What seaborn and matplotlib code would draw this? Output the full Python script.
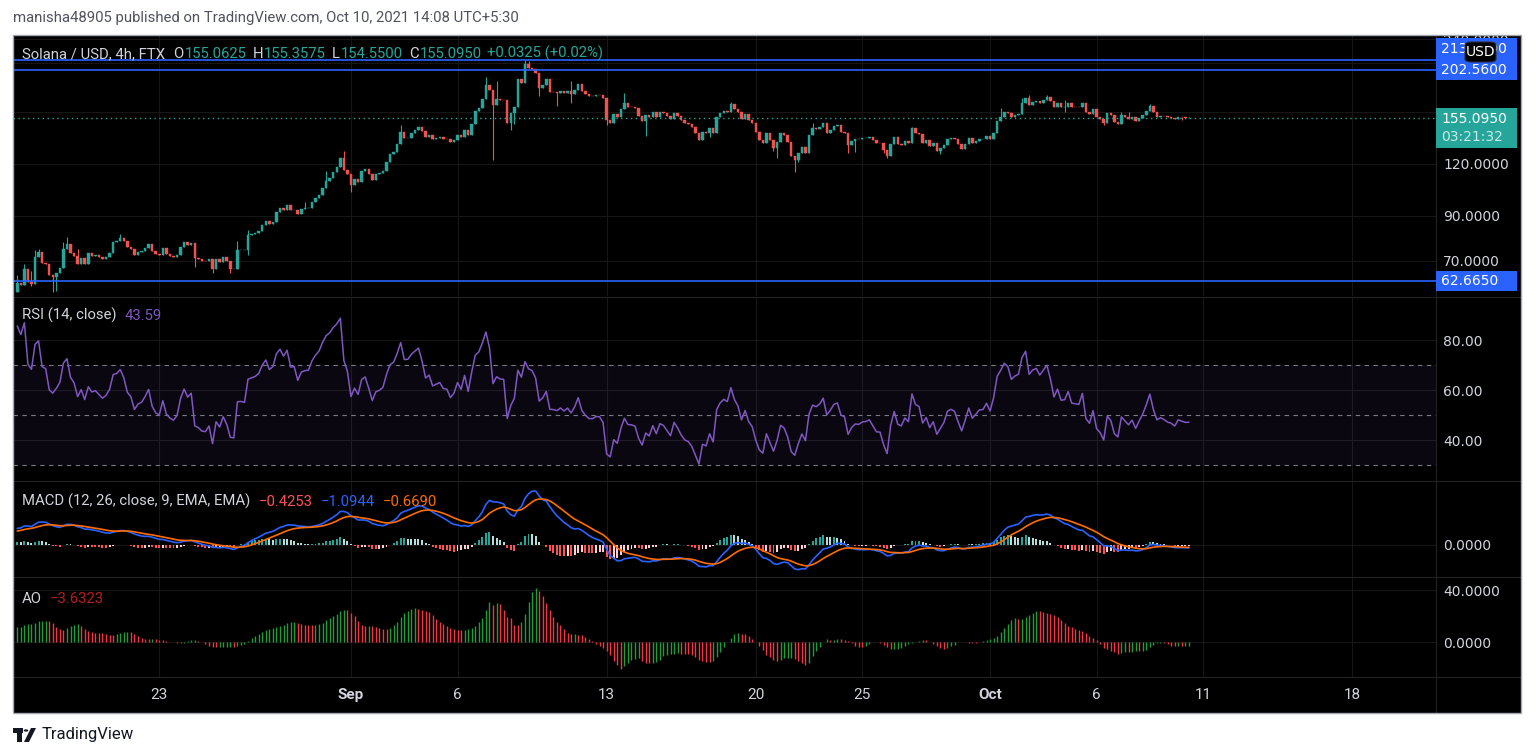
import numpy as np
import pandas as pd
import matplotlib
matplotlib.use("Agg")
import matplotlib.pyplot as plt
import matplotlib.dates as mdates
from matplotlib.patches import Rectangle, FancyBboxPatch, Polygon, Circle
from matplotlib.ticker import FixedLocator, FixedFormatter, NullLocator
from matplotlib import font_manager
import seaborn as sns

# ---------------- data (read off the snapshot) ----------------
# 4h closes before the visible window, only used to warm up the indicators
warmup_close = [37.2, 36.8, 37.5, 38.1, 37.7, 38.3,
                39.0, 39.8, 40.5, 39.9, 40.6, 40.2,
                39.6, 38.9, 39.4, 40.3, 41.2, 42.0,
                43.5, 45.1, 46.8, 45.9, 47.6, 48.9,
                49.5, 51.0, 50.2, 52.4, 53.1, 52.3,
                53.6, 55.2, 54.5, 56.3, 57.4, 58.9]

# visible 4h closes, Aug 16 08:00 -> Aug 31 20:00
close_aug = [61.95, 61.27, 66.96, 62.30, 61.61, 71.58, 73.59, 69.23, 68.9, 64.77,
             64.06, 65.49, 67.33, 74.83, 76.94, 73.18, 71.98, 68.85, 71.18, 68.85,
             73.18, 71.98, 72.38, 71.58, 70.79, 71.58, 73.18, 77.80, 78.24, 79.55,
             78.24, 75.67, 74.83, 72.38, 73.59, 74.0, 75.25, 76.94, 74.0, 72.78,
             72.38, 75.25, 72.78, 71.98, 71.58, 72.38, 75.67, 77.80, 76.51, 77.37,
             71.18, 70.79, 70.0, 69.9, 70.79, 66.96, 70.79, 69.62, 71.58, 70.0,
             66.96, 66.8, 74.41, 74.5, 74.3, 80.89, 81.34, 81.79, 82.70, 85.51,
             87.43, 85.98, 86.95, 91.92, 93.98, 92.94, 95.56, 92.94, 93.1, 90.90,
             93.46, 93.98, 94.1, 97.16, 99.34, 101.0, 105.03, 108.99, 110.83, 114.78,
             118.0, 124.07, 116.06, 113.51]

# Sep 1 00:00 -> Sep 30 20:00
close_sep = [106.79, 110.41, 108.58, 115.42, 116.71, 113.51,
             109.79, 113.51, 114.14, 115.42, 121.34, 126.86, 128.28, 134.10, 143.35, 138.65,
             138.8, 142.55, 144.95, 147.39, 144.15, 139.42, 140.99, 137.88, 138.65, 139.42,
             137.88, 137.7, 135.6, 137.11, 140.99, 139.42, 144.95, 140.99, 149.86, 161.08,
             163.78, 172.19, 186.1, 181.0, 166.5, 172.19, 171.2, 171.0, 150.7, 159.3,
             164.7, 192.43, 188.2, 209.15, 204.6, 203.42, 198.9, 183.0, 186.1, 192.43,
             179.0, 178.8, 178.0, 180.0, 178.0, 180.0, 177.04, 181.0, 187.15, 180.0,
             177.04, 175.1, 175.0, 176.1, 176.0, 173.2, 153.2, 150.7, 158.42, 155.8,
             162.89, 168.4, 164.7, 164.5, 163.8, 156.7, 152.4, 157.5, 155.8, 160.2,
             155.8, 160.2, 159.3, 156.7, 154.08, 159.3, 156.7, 153.2, 150.7, 149.86,
             147.39, 142.55, 137.11, 143.35, 142.55, 146.6, 142.55, 155.8, 159.3, 161.08,
             160.2, 167.47, 162.89, 160.2, 154.08, 158.42, 153.2, 150.7, 143.35, 137.11,
             134.84, 142.55, 137.11, 131.2, 135.6, 142.55, 140.99, 135.6, 125.5, 122.7,
             127.6, 131.9, 127.6, 140.99, 146.6, 145.76, 147.39, 150.7, 142.55, 144.95,
             148.2, 149.0, 143.35, 142.55, 133.4, 136.3, 137.88, 137.7, 138.65, 138.8,
             139.42, 137.11, 134.84, 134.7, 129.7, 125.5, 134.1, 139.42, 134.1, 133.4,
             136.3, 134.84, 146.6, 142.55, 141.76, 134.84, 137.11, 132.6, 134.84, 129.0,
             131.2, 133.4, 137.88, 138.65, 137.9, 134.1, 130.43, 134.1, 138.65, 134.84,
             136.3, 137.88, 138.0, 140.2]

# Oct 1 00:00 -> Oct 10 08:00
close_oct = [137.88, 142.55, 152.4, 155.8, 160.2, 159.3,
             155.8, 157.5, 158.42, 168.4, 173.2, 166.5, 169.3, 170.3, 168.4, 171.2,
             174.1, 170.3, 164.7, 168.4, 164.7, 164.9, 168.4, 164.7, 164.5, 164.3,
             168.4, 160.2, 158.42, 162.89, 155.8, 154.08, 150.7, 159.3, 157.5, 151.5,
             149.86, 157.5, 155.8, 154.08, 155.8, 152.4, 155.0, 157.5, 161.08, 165.6,
             160.2, 156.2, 157.0, 156.3, 155.4, 155.0, 154.1, 155.8, 155.4, 155.0625,
             155.095]

# notable wicks (candle index in the visible window -> price)
wick_high = {0: 64.8, 2: 68.9, 4: 66.2, 5: 74.4, 6: 74.8, 13: 77.8, 14: 80.0, 17: 74.8,
             29: 81.3, 62: 78.2, 65: 83.2, 81: 97.2, 87: 115.4, 92: 129.0, 108: 149.0,
             132: 194.5, 135: 190.3, 143: 213.9, 144: 212.5, 156: 190.3, 171: 178.0,
             201: 169.3, 224: 150.7, 252: 147.4, 277: 163.8, 283: 173.2, 285: 176.1,
             290: 176.1, 295: 171.2, 311: 160.2, 313: 160.2, 319: 167.5, 330: 155.3575}
wick_low = {4: 60.9, 10: 58.9, 11: 59.3, 50: 67.7, 55: 65.5, 60: 65.5, 65: 72.4,
            94: 102.7, 134: 122.7, 139: 144.9, 140: 149.9, 147: 175.1, 152: 165.6,
            156: 168.4, 166: 149.0, 177: 140.2, 195: 139.4, 213: 129.0, 214: 124.1,
            219: 114.8, 220: 121.3, 234: 127.6, 236: 128.3, 244: 127.6, 245: 124.1,
            260: 126.9, 295: 160.2, 306: 149.0, 328: 152.8, 330: 154.55}

level_lines = [213.9, 202.56, 62.665]
level_texts = ["213.9000", "202.5600", "62.6650"]
last_price = 155.095
countdown = "03:21:32"

price_ticks = [70, 90, 120, 160, 210, 240]
price_tick_text = ["70.0000", "90.0000", "120.0000", "160.0000", "", "240.0000"]
rsi_ticks = [40, 60, 80]
ao_ticks = [0, 40]
date_ticks = ["2021-08-23", "2021-09-01", "2021-09-06", "2021-09-13", "2021-09-20",
              "2021-09-25", "2021-10-01", "2021-10-06", "2021-10-11", "2021-10-18"]
date_labels = ["23", "Sep", "6", "13", "20", "25", "Oct", "6", "11", "18"]

header = "manisha48905 published on TradingView.com, Oct 10, 2021 14:08 UTC+5:30"
ohlc_vals = ["155.0625", "155.3575", "154.5500", "155.0950"]
change_txt = "+0.0325 (+0.02%)"
rsi_val = "43.59"
macd_vals = ["\u22120.4253", "\u22121.0944", "\u22120.6690"]
ao_val = "\u22123.6323"

# ---------------- style ----------------
sns.set_style("dark")
names = {f.name for f in font_manager.fontManager.ttflist}
if "Liberation Sans Narrow" in names:
    NARROW, FS_HEAD, FS_DATE = ["Liberation Sans Narrow", "DejaVu Sans"], 11.5, 11.5
else:
    NARROW, FS_HEAD, FS_DATE = ["Roboto", "DejaVu Sans"], 10.7, 11
plt.rcParams["font.family"] = ["DejaVu Sans"]

UP, DOWN = "#26a69a", "#ef5350"
TXT = "#d1d4dc"
GRID = "#161616"
SEP = "#222222"

# ---------------- series ----------------
vis = np.array(close_aug + close_sep + close_oct)
allc = np.array(warmup_close + close_aug + close_sep + close_oct)
nw = len(warmup_close)
opens_all = np.r_[allc[0], allc[:-1]]
hi_all = np.maximum(opens_all, allc)
lo_all = np.minimum(opens_all, allc)
for k, v in wick_high.items():
    hi_all[nw + k] = max(hi_all[nw + k], v)
for k, v in wick_low.items():
    lo_all[nw + k] = min(lo_all[nw + k], v)

s = pd.Series(allc)
d = s.diff()
gain = d.clip(lower=0).ewm(alpha=1 / 14, adjust=False).mean()
loss = (-d.clip(upper=0)).ewm(alpha=1 / 14, adjust=False).mean()
rsi = (100 - 100 / (1 + gain / loss)).to_numpy()[nw:]
macd = s.ewm(span=12, adjust=False).mean() - s.ewm(span=26, adjust=False).mean()
sig = macd.ewm(span=9, adjust=False).mean()
hist = (macd - sig).to_numpy()
hl2 = pd.Series((hi_all + lo_all) / 2)
ao = (hl2.rolling(5).mean() - hl2.rolling(34).mean()).to_numpy()

o = opens_all[nw:]
c = vis
hi = hi_all[nw:]
lo = lo_all[nw:]
macd_v = macd.to_numpy()[nw:]
sig_v = sig.to_numpy()[nw:]
hist_prev = hist[nw - 1:-1]
hist_v = hist[nw:]
ao_prev = ao[nw - 1:-1]
ao_v = ao[nw:]

dates = pd.date_range("2021-08-16 08:00", periods=len(vis), freq="4h")
xs = mdates.date2num(dates)
step = 1 / 6

# ---------------- figure ----------------
W, H = 1536, 756
fig = plt.figure(figsize=(W / 100, H / 100), dpi=100, facecolor="white")


def box(x0, y0, x1, y1):
    return [x0 / W, 1 - y1 / H, (x1 - x0) / W, (y1 - y0) / H]


def fy(y):
    return 1 - y / H


fig.add_artist(Rectangle((13 / W, fy(713)), 1508 / W, 678 / H, transform=fig.transFigure,
                         fc="black", ec="none", zorder=-1))

ax_p = fig.add_axes(box(13, 35, 1436, 296))
ax_r = fig.add_axes(box(13, 297, 1436, 481), sharex=ax_p)
ax_m = fig.add_axes(box(13, 481, 1436, 577), sharex=ax_p)
ax_a = fig.add_axes(box(13, 577, 1436, 677), sharex=ax_p)

for ax in (ax_p, ax_r, ax_m, ax_a):
    ax.set_facecolor("black")
    for sp in ax.spines.values():
        sp.set_visible(False)
    ax.yaxis.tick_right()
    ax.tick_params(length=0, labelcolor=TXT, labelsize=10, pad=5)
    ax.grid(True, color=GRID, lw=0.8)
    ax.set_axisbelow(True)
    ax.set_xlabel("")
    ax.set_ylabel("")

# candles
col = np.where(c >= o, UP, DOWN)
ax_p.vlines(xs, lo, hi, colors=col, lw=0.8, zorder=2)
ax_p.bar(xs, np.abs(c - o), bottom=np.minimum(o, c), width=0.7 * step, color=col,
         edgecolor=col, linewidth=0.3, zorder=3)
for v in level_lines:
    ax_p.axhline(v, color="#2962ff", lw=1.2, zorder=4)
ax_p.axhline(last_price, color=UP, lw=1.0, ls=(0, (1, 2.5)), zorder=4)
ax_p.set_yscale("log")
ax_p.set_ylim(57.6, 245.7)
ax_p.yaxis.set_major_locator(FixedLocator(price_ticks))
ax_p.yaxis.set_major_formatter(FixedFormatter(price_tick_text))
ax_p.yaxis.set_minor_locator(NullLocator())

# RSI
ax_r.axhspan(30, 70, color="#7e57c2", alpha=0.09, lw=0)
for v in (70, 50, 30):
    ax_r.axhline(v, color="#787b86", lw=0.8, ls=(0, (4, 4)))
sns.lineplot(x=xs, y=rsi, ax=ax_r, color="#7e57c2", lw=1.1, estimator=None)
ax_r.set_ylim(23.6, 97.2)
ax_r.set_yticks(rsi_ticks)
ax_r.set_yticklabels([f"{v:.2f}" for v in rsi_ticks])

# MACD
hcol = np.where(hist_v >= 0, np.where(hist_v > hist_prev, "#26a69a", "#b2dfdb"),
                np.where(hist_v > hist_prev, "#ffcdd2", "#ff5252"))
ax_m.bar(xs, hist_v, width=0.55 * step, color=hcol, lw=0, zorder=2)
sns.lineplot(x=xs, y=macd_v, ax=ax_m, color="#2962ff", lw=1.2, estimator=None, zorder=3)
sns.lineplot(x=xs, y=sig_v, ax=ax_m, color="#ff6d00", lw=1.2, estimator=None, zorder=3)
peak = np.nanmax(macd_v)
ax_m.set_ylim(-peak * 32 / 54, peak * 64 / 54)
ax_m.set_yticks([0])
ax_m.set_yticklabels(["0.0000"])

# AO
acol = np.where(ao_v >= ao_prev, "#1f9d3a", "#f23645")
ax_a.vlines(xs, 0, ao_v, colors=acol, lw=1.0, zorder=2)
ax_a.set_ylim(-26.9, 50)
ax_a.set_yticks(ao_ticks)
ax_a.set_yticklabels([f"{v:.4f}" for v in ao_ticks])

# shared x axis
ax_p.set_xlim(xs[0] - 1.2 * step, xs[0] + 399.6 * step)
ax_a.set_xticks(mdates.date2num(pd.to_datetime(date_ticks)))
ax_a.set_xticklabels(date_labels)
for ax in (ax_p, ax_r, ax_m):
    ax.tick_params(axis="x", labelbottom=False)
ax_a.tick_params(axis="x", pad=8, labelsize=FS_DATE, labelcolor=TXT)
for lbl in ax_a.get_xticklabels():
    lbl.set_fontfamily(NARROW)
    if lbl.get_text() in ("Sep", "Oct"):
        lbl.set_fontweight("bold")

# separators and frame
for yy in (296.5, 481, 577, 677):
    fig.add_artist(plt.Line2D([13 / W, 1521 / W], [fy(yy), fy(yy)], color=SEP, lw=0.8, zorder=4))
fig.add_artist(plt.Line2D([1436 / W, 1436 / W], [fy(35), fy(713)], color=SEP, lw=0.8, zorder=4))
fig.add_artist(Rectangle((13 / W, fy(713)), 1508 / W, 678 / H, transform=fig.transFigure,
                         fc="none", ec="#a3a6af", lw=1.0, zorder=10))


# price-scale labels
def img_y(ax, v):
    return H - ax.transData.transform((xs[0], v))[1]


def scale_box(yc, txt, fc, h=21):
    fig.add_artist(Rectangle((1436 / W, fy(yc + h / 2)), 81 / W, h / H, transform=fig.transFigure,
                             fc=fc, ec="none", zorder=6))
    fig.text(1441 / W, fy(yc), txt, color="white", fontsize=10, va="center", ha="left", zorder=7)


y_mid = img_y(ax_p, level_lines[1])
scale_box(y_mid, level_texts[1], "#2962ff")
scale_box(min(img_y(ax_p, level_lines[0]), y_mid - 21), level_texts[0], "#2962ff")
scale_box(img_y(ax_p, level_lines[2]), level_texts[2], "#2962ff", h=20)

y_last = img_y(ax_p, last_price)
fig.add_artist(Rectangle((1436 / W, fy(y_last + 30)), 81 / W, 40 / H, transform=fig.transFigure,
                         fc=UP, ec="none", zorder=6))
fig.text(1441 / W, fy(y_last + 1), f"{last_price:.4f}", color="white", fontsize=10, va="center", zorder=7)
fig.text(1441 / W, fy(y_last + 19.5), countdown, color="#c9ebe7", fontsize=10, va="center", zorder=7)

fig.add_artist(FancyBboxPatch((1465 / W, fy(62)), 31 / W, 20 / H, transform=fig.transFigure,
                              boxstyle="round,pad=0,rounding_size=0.004", fc="black",
                              ec="#2a2e39", lw=0.8, zorder=8))
fig.text(1480.5 / W, fy(52), "USD", color="white", fontsize=10, ha="center", va="center", zorder=9)

# texts
fig.text(13 / W, fy(18), header, color="#50535e", fontsize=FS_HEAD, family=NARROW, va="center")

renderer = fig.canvas.get_renderer()


def legend_row(x, y, parts, size=FS_HEAD):
    for txt, color, gap in parts:
        t = fig.text(x / W, fy(y), txt, color=color, fontsize=size, family=NARROW,
                     va="baseline", zorder=7)
        x += t.get_window_extent(renderer).width + gap


legend_row(22, 58, [("Solana / USD, 4h, FTX", TXT, 8),
                    ("O", TXT, 1), (ohlc_vals[0], UP, 6),
                    ("H", TXT, 1), (ohlc_vals[1], UP, 6),
                    ("L", TXT, 1), (ohlc_vals[2], UP, 6),
                    ("C", TXT, 1), (ohlc_vals[3], UP, 6),
                    (change_txt, UP, 0)])
legend_row(22, 320, [("RSI (14, close)", TXT, 8), (rsi_val, "#7e57c2", 0)])
legend_row(22, 506, [("MACD (12, 26, close, 9, EMA, EMA)", TXT, 8),
                     (macd_vals[0], "#ff5252", 8), (macd_vals[1], "#2962ff", 8),
                     (macd_vals[2], "#ff6d00", 0)])
legend_row(22, 603, [("AO", TXT, 8), (ao_val, "#b71c1c", 0)])

# footer logo
LOGO = "#131722"
fig.add_artist(Rectangle((13 / W, fy(733)), 10 / W, 5 / H, transform=fig.transFigure, fc=LOGO, ec="none"))
fig.add_artist(Rectangle((17 / W, fy(742)), 5 / W, 14 / H, transform=fig.transFigure, fc=LOGO, ec="none"))
fig.add_artist(Circle((26 / W, fy(730.5)), 2.3 / W, transform=fig.transFigure, fc=LOGO, ec="none"))
fig.add_artist(Polygon([(24 / W, fy(742)), (29 / W, fy(742)), (36 / W, fy(728)), (31 / W, fy(728))],
                       closed=True, transform=fig.transFigure, fc=LOGO, ec="none"))
fig.text(42 / W, fy(735), "TradingView", color=LOGO, fontsize=12, family=NARROW, va="center")

fig.savefig("out.png", dpi=100, facecolor="white")
